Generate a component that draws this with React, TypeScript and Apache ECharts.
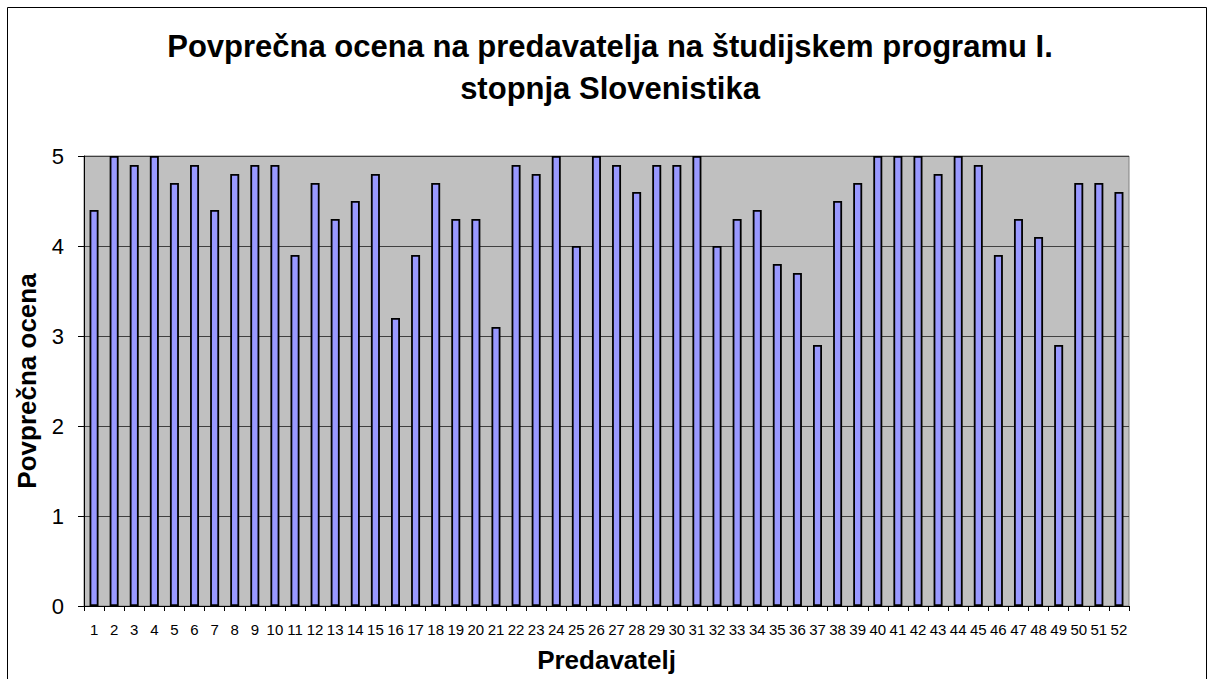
import React, { useEffect, useRef } from "react";
import * as echarts from "echarts";

const categories: string[] = Array.from({ length: 52 }, (_, i) => String(i + 1));
const values: number[] = [
  4.4, 5.0, 4.9, 5.0, 4.7, 4.9, 4.4, 4.8, 4.9, 4.9,
  3.9, 4.7, 4.3, 4.5, 4.8, 3.2, 3.9, 4.7, 4.3, 4.3,
  3.1, 4.9, 4.8, 5.0, 4.0, 5.0, 4.9, 4.6, 4.9, 4.9,
  5.0, 4.0, 4.3, 4.4, 3.8, 3.7, 2.9, 4.5, 4.7, 5.0,
  5.0, 5.0, 4.8, 5.0, 4.9, 3.9, 4.3, 4.1, 2.9, 4.7,
  4.7, 4.6,
];
const titleText = "Povprečna ocena na predavatelja na študijskem programu I.\nstopnja Slovenistika";
const yName = "Povprečna ocena";
const xName = "Predavatelj";

export default function App() {
  const ref = useRef<HTMLDivElement>(null);
  useEffect(() => {
    if (!ref.current) return;
    const chart = echarts.init(ref.current, null, { renderer: "svg" });
    const font = "Arial, 'Liberation Sans', sans-serif";
    chart.setOption({
      animation: false,
      textStyle: { fontFamily: font },
      graphic: [
        {
          type: "rect",
          shape: { x: 7.5, y: 7.5, width: 1199, height: 700 },
          style: { fill: "none", stroke: "#000", lineWidth: 1 },
          silent: true,
          z: -10,
        },
      ],
      title: {
        text: titleText,
        left: 605,
        top: 20,
        textAlign: "center",
        textStyle: {
          fontFamily: font,
          fontWeight: "bold",
          fontSize: 31,
          lineHeight: 42,
          color: "#000",
        },
      },
      grid: {
        left: 84,
        right: 82,
        top: 156,
        bottom: 73,
        show: true,
        backgroundColor: "#C0C0C0",
        borderColor: "#808080",
        borderWidth: 1,
      },
      xAxis: {
        type: "category",
        data: categories,
        boundaryGap: true,
        name: xName,
        nameLocation: "middle",
        nameGap: 41,
        nameTextStyle: { fontFamily: font, fontWeight: "bold", fontSize: 26, color: "#000" },
        axisLine: { show: true, lineStyle: { color: "#000", width: 1 } },
        axisTick: { show: true, alignWithLabel: false, length: 5, lineStyle: { color: "#000" } },
        axisLabel: { interval: 0, fontSize: 15, color: "#000", margin: 16 },
        splitLine: { show: false },
      },
      yAxis: {
        type: "value",
        min: 0,
        max: 5,
        interval: 1,
        name: yName,
        nameLocation: "middle",
        nameGap: 44,
        nameTextStyle: { fontFamily: font, fontWeight: "bold", fontSize: 26, color: "#000" },
        axisLine: { show: true, lineStyle: { color: "#000", width: 1 } },
        axisTick: { show: true, length: 6, lineStyle: { color: "#000" } },
        axisLabel: { fontSize: 22, color: "#000", margin: 20 },
        splitLine: { show: true, lineStyle: { color: "#404040", width: 1 } },
      },
      series: [
        {
          type: "bar",
          data: values,
          barWidth: 9,
          itemStyle: { color: "#9999FF", borderColor: "#000", borderWidth: 1.8 },
        },
      ],
    });
    return () => chart.dispose();
  }, []);
  return (
    <div
      ref={ref}
      style={{ position: "fixed", left: 0, top: 0, width: 1211, height: 679, background: "#fff" }}
    />
  );
}
